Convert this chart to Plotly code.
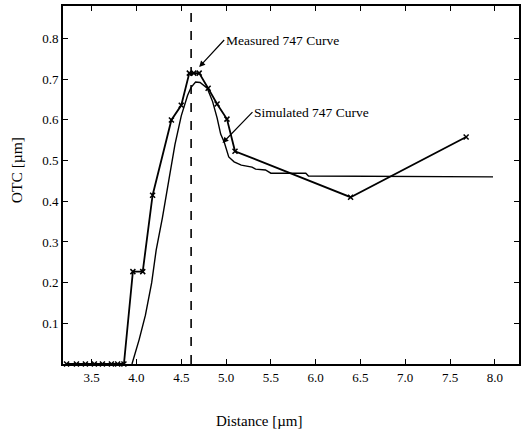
import plotly.graph_objects as go

# Measured 747 curve (with x markers)
meas_x = [3.22, 3.33, 3.43, 3.53, 3.62, 3.72, 3.79, 3.86, 3.96, 4.07, 4.18, 4.39, 4.50,
          4.59, 4.64, 4.70, 4.80, 4.90, 5.01, 5.10, 6.39, 7.68]
meas_y = [0.0, 0.0, 0.0, 0.0, 0.0, 0.0, 0.0, 0.0, 0.227, 0.227, 0.415, 0.600, 0.636,
          0.715, 0.715, 0.715, 0.678, 0.639, 0.602, 0.523, 0.410, 0.558]

# Simulated 747 curve (solid line)
sim_x = [3.95, 4.03, 4.10, 4.17, 4.22, 4.29, 4.36, 4.43, 4.50, 4.57, 4.61, 4.66, 4.71,
         4.79, 4.85, 4.90, 4.94, 4.98, 5.03, 5.09, 5.17, 5.29, 5.33, 5.44, 5.50, 5.89,
         5.92, 7.98]
sim_y = [0.0, 0.06, 0.12, 0.20, 0.28, 0.36, 0.45, 0.54, 0.61, 0.66, 0.68, 0.693, 0.692,
         0.678, 0.645, 0.605, 0.565, 0.545, 0.509, 0.497, 0.489, 0.484, 0.479, 0.477,
         0.469, 0.469, 0.462, 0.460]

dashed_x = 4.61
x_ticks = [3.5, 4.0, 4.5, 5.0, 5.5, 6.0, 6.5, 7.0, 7.5, 8.0]
x_ticklabels = ["3.5", "4.0", "4.5", "5.0", "5.5", "6.0", "6.5", "7.0", "7.5", "8.0"]
y_ticks = [0.1, 0.2, 0.3, 0.4, 0.5, 0.6, 0.7, 0.8]
y_ticklabels = ["0.1", "0.2", "0.3", "0.4", "0.5", "0.6", "0.7", "0.8"]

FONT = "Liberation Serif"

fig = go.Figure()
fig.add_trace(go.Scatter(x=sim_x, y=sim_y, mode="lines",
                         line=dict(color="black", width=1.4), cliponaxis=False,
                         showlegend=False))
fig.add_trace(go.Scatter(x=meas_x, y=meas_y, mode="lines+markers",
                         line=dict(color="black", width=1.8),
                         marker=dict(symbol="x-thin", size=5, color="black",
                                     line=dict(color="black", width=1.5)),
                         cliponaxis=False, showlegend=False))

fig.add_shape(type="line", x0=dashed_x, x1=dashed_x, y0=0, y1=1, xref="x", yref="paper",
              line=dict(color="black", width=1.6, dash="dash"))

fig.add_annotation(x=4.70, y=0.73, xref="x", yref="y", text="Measured 747 Curve",
                   showarrow=True, arrowhead=2, arrowsize=1, arrowwidth=1.2,
                   arrowcolor="black", ax=25, ay=-27, xanchor="left", yanchor="middle",
                   font=dict(family=FONT, size=13.5, color="black"))
fig.add_annotation(x=4.96, y=0.543, xref="x", yref="y", text="Simulated 747 Curve",
                   showarrow=True, arrowhead=2, arrowsize=1, arrowwidth=1.2,
                   arrowcolor="black", ax=30, ay=-31, xanchor="left", yanchor="middle",
                   font=dict(family=FONT, size=13.5, color="black"))

# axis titles, placed in plot-area fractions
plot_w = 522 - 63 - 1
plot_h = 434 - 6 - 70
fig.add_annotation(x=(260 - 63) / plot_w, y=(364 - 421) / plot_h, xref="paper", yref="paper",
                   text="Distance [µm]", showarrow=False, xanchor="center", yanchor="middle",
                   font=dict(family=FONT, size=15, color="black"))
fig.add_annotation(x=(16 - 63) / plot_w, y=(364 - 170) / plot_h, xref="paper", yref="paper",
                   text="OTC [µm]", showarrow=False, textangle=-90,
                   xanchor="center", yanchor="middle",
                   font=dict(family=FONT, size=15.5, color="black"))

fig.update_layout(
    width=522, height=434,
    margin=dict(l=63, r=1, t=6, b=70),
    paper_bgcolor="white", plot_bgcolor="white",
    font=dict(family=FONT, size=13, color="black"),
)

fig.update_xaxes(range=[3.18, 8.27], tickvals=x_ticks, ticktext=x_ticklabels,
                 showgrid=False, zeroline=False, showline=True, linecolor="black",
                 linewidth=2, mirror="ticks", ticks="inside", ticklen=5, tickwidth=1,
                 tickcolor="black", tickfont=dict(family=FONT, size=13))
fig.update_yaxes(range=[0, 0.88], tickvals=y_ticks, ticktext=y_ticklabels,
                 showgrid=False, zeroline=False, showline=True, linecolor="black",
                 linewidth=2, mirror="ticks", ticks="inside", ticklen=5, tickwidth=1,
                 tickcolor="black", tickfont=dict(family=FONT, size=13))

fig.write_html("out.html")
